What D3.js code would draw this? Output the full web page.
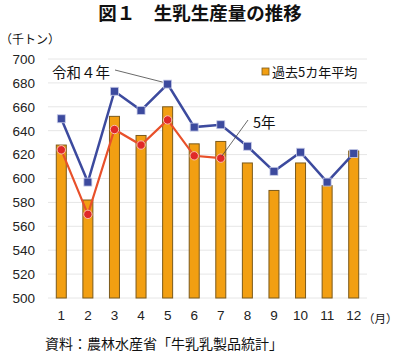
<!DOCTYPE html>
<html>
<head>
<meta charset="utf-8">
<script src="https://cdn.jsdelivr.net/npm/d3@7"></script>
<style>
  body { margin: 0; background: white; }
  text { font-family: "Noto Sans CJK JP", "Noto Sans", sans-serif; }
</style>
</head>
<body>
<div id="container"></div>
<script>
let w = 400;
let h = 354;

// data
let months = ["1","2","3","4","5","6","7","8","9","10","11","12"];
let avg5 = [628, 582, 652, 636, 660, 629, 631, 613, 590, 613, 594, 623];
let reiwa4 = [650, 597, 673, 657, 679, 643, 645, 627, 606, 622, 597, 621];
let reiwa5 = [624, 570, 641, 628, 649, 619, 617];
let yTicks = [500, 520, 540, 560, 580, 600, 620, 640, 660, 680, 700];

let viz = d3.select("#container").append("svg")
    .attr("width", w)
    .attr("height", h);

let xScale = d3.scaleBand().domain(months).range([48, 367]);
let yScale = d3.scaleLinear().domain([500, 700]).range([298, 59]);
let cx = function(i){ return xScale(months[i]) + xScale.bandwidth()/2; };

// gridlines
viz.selectAll(".grid").data(yTicks).enter()
  .append("line")
    .attr("x1", 48).attr("x2", 367)
    .attr("y1", d => yScale(d)).attr("y2", d => yScale(d))
    .attr("stroke", "#e6e6e6")
    .attr("stroke-width", 1);

// y axis labels
let yAxis = d3.axisLeft(yScale).tickValues(yTicks).tickSize(0).tickPadding(10);
let yg = viz.append("g").attr("transform", "translate(45,0)").call(yAxis);
yg.select(".domain").remove();
yg.selectAll("text").attr("font-size", 13.5).attr("fill", "#222")
  .style("font-family", "'Liberation Sans', Arial, sans-serif");

// x axis labels
let xAxis = d3.axisBottom(xScale).tickSize(0).tickPadding(10);
let xg = viz.append("g").attr("transform", "translate(0,300)").call(xAxis);
xg.select(".domain").remove();
xg.selectAll("text").attr("font-size", 13.5).attr("fill", "#222")
  .style("font-family", "'Liberation Sans', Arial, sans-serif");

// bars
viz.selectAll(".bar").data(avg5).enter()
  .append("rect")
    .attr("x", (d,i) => cx(i) - 5)
    .attr("y", d => yScale(d))
    .attr("width", 10)
    .attr("height", d => yScale(500) - yScale(d))
    .attr("fill", "#F29F12")
    .attr("stroke", "#7B5A1C")
    .attr("stroke-width", 1);

// reiwa 4 line
let line4 = d3.line().x((d,i) => cx(i)).y(d => yScale(d));
viz.append("path").datum(reiwa4)
  .attr("d", line4)
  .attr("fill", "none")
  .attr("stroke", "#3C4A9E")
  .attr("stroke-width", 2.5);
viz.selectAll(".sq").data(reiwa4).enter()
  .append("rect")
    .attr("x", (d,i) => cx(i) - 4)
    .attr("y", d => yScale(d) - 4)
    .attr("width", 8).attr("height", 8)
    .attr("fill", "#3C4A9E")
    .attr("stroke", "#c8cce8")
    .attr("stroke-width", 0.8);

// reiwa 5 line
viz.append("path").datum(reiwa5)
  .attr("d", line4)
  .attr("fill", "none")
  .attr("stroke", "#E8502A")
  .attr("stroke-width", 2.2);
viz.selectAll(".dot").data(reiwa5).enter()
  .append("circle")
    .attr("cx", (d,i) => cx(i))
    .attr("cy", d => yScale(d))
    .attr("r", 4.2)
    .attr("fill", "#E02828")
    .attr("stroke", "#f6c0b0")
    .attr("stroke-width", 1);

// annotations
viz.append("line")
  .attr("x1", 115).attr("y1", 70)
  .attr("x2", cx(4) - 5).attr("y2", yScale(reiwa4[4]) - 2)
  .attr("stroke", "#444").attr("stroke-width", 0.8);
viz.append("text").attr("x", 52).attr("y", 78)
  .attr("font-size", 14.5).attr("fill", "#111").text("令和４年");

viz.append("line")
  .attr("x1", 248).attr("y1", 120)
  .attr("x2", cx(6) + 1).attr("y2", yScale(reiwa5[6]) - 2)
  .attr("stroke", "#444").attr("stroke-width", 0.8);
viz.append("text").attr("x", 253).attr("y", 128)
  .attr("font-size", 14.5).attr("fill", "#111").text("5年");

// legend
viz.append("rect").attr("x", 262).attr("y", 68).attr("width", 7).attr("height", 7)
  .attr("fill", "#F29F12").attr("stroke", "#7B5A1C").attr("stroke-width", 0.8);
viz.append("text").attr("x", 272).attr("y", 77)
  .attr("font-size", 13).attr("fill", "#111").text("過去5カ年平均");

// title and labels
viz.append("text").attr("x", 200).attr("y", 20).attr("text-anchor", "middle")
  .attr("font-size", 18.5).attr("font-weight", "bold").attr("fill", "#111")
  .text("図１　生乳生産量の推移");
viz.append("text").attr("x", 0).attr("y", 44)
  .attr("font-size", 12).attr("fill", "#111").text("（千トン）");
viz.append("text").attr("x", 363).attr("y", 323)
  .attr("font-size", 11.5).attr("fill", "#111").text("（月）");
viz.append("text").attr("x", 45).attr("y", 349)
  .attr("font-size", 14).attr("fill", "#111").text("資料：農林水産省「牛乳乳製品統計」");
</script>
</body>
</html>
